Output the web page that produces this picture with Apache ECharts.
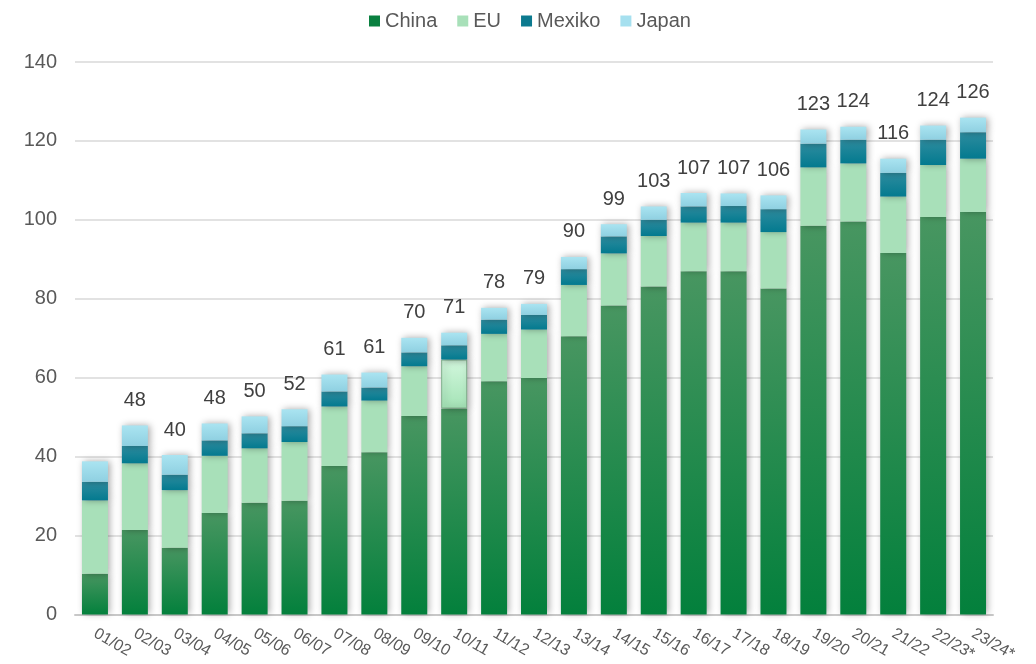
<!DOCTYPE html>
<html>
<head>
<meta charset="utf-8">
<script src="https://cdn.jsdelivr.net/npm/echarts@6/dist/echarts.min.js"></script>
<style>
html,body{margin:0;padding:0;background:#fff;}
#chart{width:1036px;height:664px;}
</style>
</head>
<body>
<div id="chart"></div>
<script>
var categories = ["01/02","02/03","03/04","04/05","05/06","06/07","07/08","08/09","09/10","10/11","11/12","12/13","13/14","14/15","15/16","16/17","17/18","18/19","19/20","20/21","21/22","22/23*","23/24*"];
var china  = [10.3,21.4,16.9,25.7,28.3,28.8,37.6,41.1,50.3,52.2,59.1,59.9,70.5,78.3,83.1,87.0,87.0,82.6,98.5,99.6,91.6,100.7,102.0];
var eu     = [18.6,16.9,14.6,14.5,13.8,14.9,15.1,13.1,12.6,12.4,12.0,12.3,13.0,13.2,12.8,12.3,12.3,14.3,14.8,14.7,14.3,13.2,13.5];
var mexiko = [4.7,4.4,3.9,3.9,3.8,4.0,3.8,3.3,3.5,3.6,3.6,3.7,4.0,4.3,4.1,4.1,4.2,5.8,6.0,6.0,6.0,6.4,6.7];
var japan  = [5.2,5.2,5.0,4.3,4.3,4.3,4.3,3.8,3.7,3.2,3.0,2.8,3.1,3.1,3.4,3.4,3.2,3.5,3.6,3.3,3.6,3.6,3.7];
var totalLabels = ["","48","40","48","50","52","61","61","70","71","78","79","90","99","103","107","107","106","123","124","116","124","126"];
var yTicks = [0,20,40,60,80,100,120,140];

var FONT = "'Liberation Sans', Arial, sans-serif";
function grad(top, bottom){
  return new echarts.graphic.LinearGradient(0,0,0,1,[{offset:0,color:top},{offset:1,color:bottom}]);
}
var shadow = {shadowBlur:7, shadowColor:'rgba(0,0,0,0.35)', shadowOffsetX:2, shadowOffsetY:0};

var euData = eu.map(function(v,i){
  if(i===9){
    return {value:v, itemStyle:{color:grad('#d2f7dd','#a4e3b6'), borderColor:'#7fae8c', borderWidth:1}};
  }
  return v;
});

var chart = echarts.init(document.getElementById('chart'));
chart.setOption({
  animation:false,
  backgroundColor:'#ffffff',
  legend:{
    top:6, left:364,
    icon:'rect', itemWidth:11, itemHeight:11, itemGap:20,
    textStyle:{fontSize:20, color:'#595959', fontFamily:FONT},
    data:[
      {name:'China', itemStyle:{color:'#0a8040'}},
      {name:'EU', itemStyle:{color:'#a8e0b9'}},
      {name:'Mexiko', itemStyle:{color:'#0c7a8f'}},
      {name:'Japan', itemStyle:{color:'#a6e0ef'}}
    ]
  },
  grid:{left:75, right:43, top:62, bottom:46, containLabel:false},
  xAxis:{
    type:'category', data:categories,
    axisLine:{lineStyle:{color:'#c8c8c8', width:2}},
    axisTick:{show:false},
    axisLabel:{interval:0, rotate:-30, fontSize:16, color:'#595959', margin:18, fontFamily:FONT}
  },
  yAxis:{
    type:'value', min:yTicks[0], max:yTicks[yTicks.length-1], interval:20,
    axisLine:{show:false}, axisTick:{show:false},
    axisLabel:{fontSize:20, color:'#595959', margin:18, fontFamily:FONT},
    splitLine:{lineStyle:{color:'#d9d9d9', width:1.5}}
  },
  series:[
    {name:'China', type:'bar', stack:'a', barWidth:26, data:china,
     itemStyle:Object.assign({color:grad('#489661','#03803c')}, shadow)},
    {name:'EU', type:'bar', stack:'a', barWidth:26, data:euData,
     itemStyle:Object.assign({color:'#a8e0b9'}, shadow)},
    {name:'Mexiko', type:'bar', stack:'a', barWidth:26, data:mexiko,
     itemStyle:Object.assign({color:grad('#2e8c9f','#037a8f')}, shadow)},
    {name:'Japan', type:'bar', stack:'a', barWidth:26, data:japan,
     itemStyle:Object.assign({color:grad('#aae4f1','#8fd0e1')}, shadow),
     label:{show:true, position:'top', distance:15, fontSize:20, color:'#404040', fontFamily:FONT,
       formatter:function(p){return totalLabels[p.dataIndex];}}}
  ]
});
</script>
</body>
</html>
